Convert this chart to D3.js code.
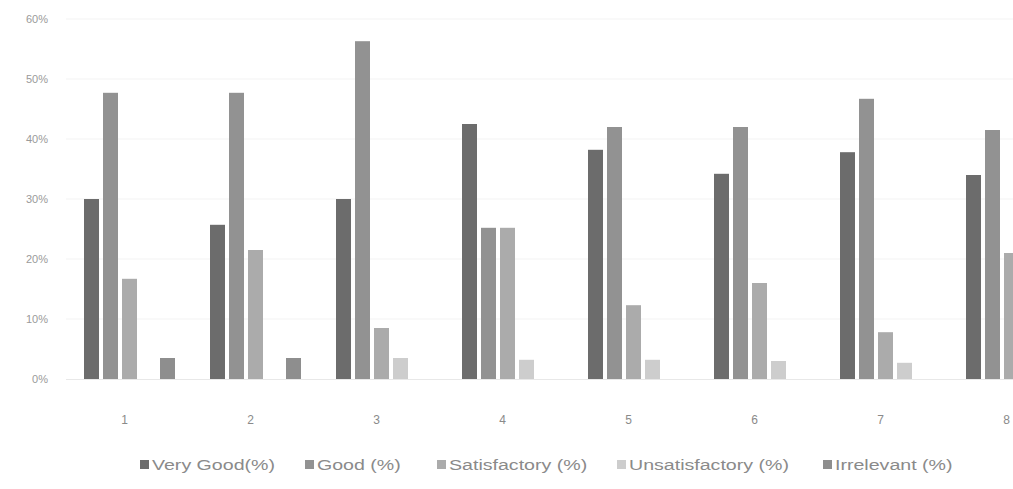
<!DOCTYPE html>
<html>
<head>
<meta charset="utf-8">
<script src="https://cdn.jsdelivr.net/npm/d3@7"></script>
<style>
  html, body { margin: 0; padding: 0; background: #ffffff; }
  svg { display: block; font-family: "Liberation Sans", Arial, sans-serif; }
</style>
</head>
<body>
<svg id="chart" width="1013" height="489"></svg>
<script>
const categories = ["1", "2", "3", "4", "5", "6", "7", "8"];
const seriesNames = ["Very Good(%)", "Good (%)", "Satisfactory (%)", "Unsatisfactory (%)", "Irrelevant (%)"];
const veryGood       = [30, 25.7, 30, 42.5, 38.2, 34.2, 37.8, 34];
const good           = [47.7, 47.7, 56.3, 25.2, 42, 42, 46.7, 41.5];
const satisfactory   = [16.7, 21.5, 8.5, 25.2, 12.3, 16, 7.8, 21];
const unsatisfactory = [0, 0, 3.5, 3.2, 3.2, 3, 2.7, 3];
const irrelevant     = [3.5, 3.5, 0, 0, 0, 0, 0, 0];
const yTicks = [0, 10, 20, 30, 40, 50, 60];

const seriesValues = [veryGood, good, satisfactory, unsatisfactory, irrelevant];
const colors = ["#6c6c6c", "#929292", "#ababab", "#cdcdcd", "#8e8e8e"];

const svg = d3.select("#chart");

const x0 = d3.scaleBand().domain(categories).range([66.5, 1074.5]).paddingInner(0).paddingOuter(0);
const y = d3.scaleLinear().domain([0, 60]).range([379, 19]);
const x1 = d3.scaleBand().domain(seriesNames).range([-45.5, 45.5]).paddingInner(4 / 19).paddingOuter(0);

// gridlines
svg.append("g")
  .selectAll("line")
  .data(yTicks.filter(d => d > 0))
  .join("line")
  .attr("x1", 66).attr("x2", 1013)
  .attr("y1", d => y(d)).attr("y2", d => y(d))
  .attr("stroke", "#f3f3f3").attr("stroke-width", 1);

// y axis
const yAxis = d3.axisLeft(y).tickValues(yTicks).tickFormat(d => d + "%").tickSize(0).tickPadding(0);
const gy = svg.append("g").attr("transform", "translate(48,0)").call(yAxis);
gy.select(".domain").remove();
gy.selectAll("text").attr("fill", "#9a9a9a").style("font-size", "11px");

// bars
const groups = svg.append("g")
  .selectAll("g")
  .data(categories)
  .join("g")
  .attr("transform", d => `translate(${x0(d) + x0.bandwidth() / 2},0)`);

groups.selectAll("rect")
  .data((c, i) => seriesNames.map((s, j) => ({ s, j, v: seriesValues[j][i] })))
  .join("rect")
  .attr("x", d => x1(d.s))
  .attr("width", x1.bandwidth())
  .attr("y", d => y(d.v))
  .attr("height", d => y(0) - y(d.v))
  .attr("fill", d => colors[d.j]);

// baseline
svg.append("line")
  .attr("x1", 66).attr("x2", 1013)
  .attr("y1", y(0) + 0.5).attr("y2", y(0) + 0.5)
  .attr("stroke", "#e8e8e8");

// x axis labels
const xAxis = d3.axisBottom(x0).tickSize(0).tickPadding(0);
const gx = svg.append("g").attr("transform", "translate(-5,415)").call(xAxis);
gx.select(".domain").remove();
gx.selectAll("text").attr("fill", "#8a8a8a").style("font-size", "12px");

// legend
const legendX = [140, 305, 437, 617, 823];
const legend = svg.append("g")
  .selectAll("g")
  .data(seriesNames)
  .join("g")
  .attr("transform", (d, i) => `translate(${legendX[i]},466)`);
legend.append("rect")
  .attr("x", 0).attr("y", -6).attr("width", 9).attr("height", 9)
  .attr("fill", (d, i) => colors[i]);
legend.append("text")
  .attr("transform", "translate(12,4) scale(1.4,1)")
  .attr("fill", "#8a8a8a")
  .style("font-size", "14px")
  .text(d => d);
</script>
</body>
</html>
